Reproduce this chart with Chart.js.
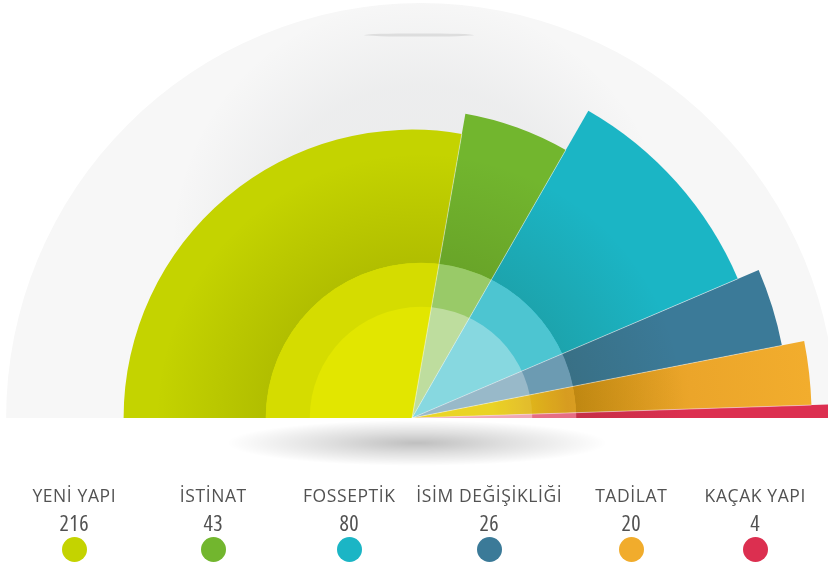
<!DOCTYPE html>
<html lang="tr">
<head>
<meta charset="utf-8">
<title>Başvuru Dağılımı</title>
<script src="https://cdn.jsdelivr.net/npm/chart.js@4.4.1/dist/chart.umd.min.js"></script>
<style>
  html, body { margin: 0; padding: 0; background: #fff; }
  body { position: relative; width: 828px; height: 571px; overflow: hidden; font-family: "Open Sans", Roboto, sans-serif; }
  #fan { position: absolute; left: 0; top: 0; }
  .key { position: absolute; top: 0; width: 180px; text-align: center; color: #525252; }
  .key .name { position: absolute; left: 0; right: 0; top: 486.5px; font-size: 17.5px; line-height: 17.5px; letter-spacing: 0.6px; text-indent: 0.6px; white-space: nowrap; }
  .key .count { position: absolute; left: 0; right: 0; top: 510.5px; font-size: 22px; line-height: 22px; font-stretch: 87.5%; letter-spacing: 0.5px; text-indent: 0.5px; }
  .key .dot { position: absolute; left: 77.5px; top: 537px; width: 25px; height: 25px; border-radius: 50%; }
</style>
</head>
<body>
<canvas id="fan" width="828" height="836"></canvas>
<div id="keys"></div>
<script>
var labels = ['YENİ YAPI', 'İSTİNAT', 'FOSSEPTİK', 'İSİM DEĞİŞİKLİĞİ', 'TADİLAT', 'KAÇAK YAPI'];
var counts = [216, 43, 80, 26, 20, 4];

// radial length of each slice, 100 = edge of the grey backdrop
var reach = [70, 75, 86, 91.5, 97, 102];
var colors = ['#c4d300', '#72b62e', '#1bb5c5', '#3b7a98', '#f1ac2c', '#dc2f50'];

// the two light rings laid over the middle of the fan
var ringReach = [37.7, 27];
var outerRing = ['#d5dc00', 'rgba(255,255,255,0.28)', 'rgba(255,255,255,0.22)', 'rgba(255,255,255,0.25)', 'rgba(255,240,160,0.1)', 'rgba(255,255,255,0.3)'];
var innerRing = ['#e2e600', 'rgba(255,255,255,0.36)', 'rgba(255,255,255,0.33)', 'rgba(255,255,255,0.3)', 'rgba(255,250,190,0.12)', 'rgba(255,255,255,0.4)'];

// legend column centres
var keyX = [74, 213, 349, 489, 631, 755];

var total = counts.reduce(function (a, b) { return a + b; }, 0);
var sweep = counts.map(function (v) { return v / total * 180; });

var ringShift = 9;      // rings and backdrop sit a little right of the fan tip
var backdropReach = 100.7;

function tadilatFill(c) {
    var r = c.chart.scales.r;
    if (!r || !c.chart.chartArea) return colors[4];
    var g = c.chart.ctx.createRadialGradient(r.xCenter, r.yCenter, 0, r.xCenter, r.yCenter, r.getDistanceFromCenterForValue(reach[4]));
    g.addColorStop(0, '#e6cf00');
    g.addColorStop(0.2, '#e6cc00');
    g.addColorStop(0.3, '#dcae0c');
    g.addColorStop(0.39, '#d39412');
    g.addColorStop(0.7, '#eba52a');
    g.addColorStop(1, '#f2ad2d');
    return g;
}

var fanDecor = {
    id: 'fanDecor',
    beforeDatasetsDraw: function (chart) {
        var ctx = chart.ctx, r = chart.scales.r;
        var cx = r.xCenter + ringShift, cy = r.yCenter;
        var R = r.getDistanceFromCenterForValue(backdropReach);

        ctx.save();
        // grey backdrop half disc
        ctx.beginPath();
        ctx.arc(cx, cy, R, Math.PI, 2 * Math.PI);
        ctx.closePath();
        ctx.fillStyle = '#f7f7f7';
        ctx.fill();
        ctx.clip();
        var haze = ctx.createRadialGradient(cx, cy - 170, 0, cx, cy - 170, 250);
        haze.addColorStop(0, 'rgba(60,70,80,0.07)');
        haze.addColorStop(0.65, 'rgba(60,70,80,0.055)');
        haze.addColorStop(1, 'rgba(60,70,80,0)');
        ctx.fillStyle = haze;
        ctx.fillRect(cx - R, cy - R, 2 * R, R);
        // thin sliver near the top
        ctx.beginPath();
        ctx.ellipse(cx - 2, cy - 383, 55, 1.6, 0, 0, 2 * Math.PI);
        ctx.fillStyle = 'rgba(0,0,0,0.09)';
        ctx.fill();
        ctx.restore();

        // soft floor shadow under the base line
        ctx.save();
        ctx.translate(r.xCenter + 5, cy + 25);
        ctx.scale(1, 0.12);
        var sh = ctx.createRadialGradient(0, 0, 0, 0, 0, 190);
        sh.addColorStop(0, 'rgba(0,0,0,0.25)');
        sh.addColorStop(0.45, 'rgba(0,0,0,0.13)');
        sh.addColorStop(1, 'rgba(0,0,0,0)');
        ctx.fillStyle = sh;
        ctx.fillRect(-200, -200, 400, 400);
        ctx.restore();
    },
    afterDatasetsDraw: function (chart) {
        var ctx = chart.ctx, r = chart.scales.r;
        var arcs = chart.getDatasetMeta(0).data;
        var cx = r.xCenter + ringShift, cy = r.yCenter;

        function slicePath(a) {
            ctx.moveTo(a.x, a.y);
            ctx.arc(a.x, a.y, a.outerRadius, a.startAngle, a.endAngle);
            ctx.closePath();
        }

        // shade cast by the rings onto the slices
        var r1 = r.getDistanceFromCenterForValue(ringReach[0]);
        ctx.save();
        ctx.beginPath();
        arcs.forEach(slicePath);
        ctx.clip();
        var shade = ctx.createRadialGradient(cx, cy, 0, cx, cy, 265);
        var edge = r1 / 265;
        shade.addColorStop(0, 'rgba(40,40,0,0)');
        shade.addColorStop(edge - 0.001, 'rgba(40,40,0,0)');
        shade.addColorStop(edge, 'rgba(40,40,0,0.12)');
        shade.addColorStop(1, 'rgba(40,40,0,0)');
        ctx.fillStyle = shade;
        ctx.fillRect(cx - 300, cy - 300, 600, 300);
        ctx.restore();

        [outerRing, innerRing].forEach(function (fills, k) {
            var rad = r.getDistanceFromCenterForValue(ringReach[k]);
            arcs.forEach(function (a, i) {
                ctx.save();
                ctx.beginPath();
                slicePath(a);
                ctx.clip();
                ctx.beginPath();
                ctx.arc(cx, cy, rad, Math.PI, 2 * Math.PI);
                ctx.closePath();
                ctx.fillStyle = fills[i];
                ctx.fill();
                ctx.restore();
            });
        });

        // thin light seams between slices
        ctx.save();
        ctx.strokeStyle = 'rgba(255,255,255,0.55)';
        ctx.lineWidth = 0.8;
        arcs.forEach(function (a, i) {
            if (i === 0) return;
            ctx.beginPath();
            ctx.moveTo(a.x, a.y);
            var len = Math.min(a.outerRadius, arcs[i - 1].outerRadius);
            ctx.lineTo(a.x + Math.cos(a.startAngle) * len, a.y + Math.sin(a.startAngle) * len);
            ctx.stroke();
        });
        ctx.restore();
    }
};

new Chart(document.getElementById('fan'), {
    type: 'polarArea',
    data: {
        labels: labels,
        datasets: [{
            data: reach,
            angle: sweep,
            backgroundColor: function (c) {
                return c.dataIndex === 4 ? tadilatFill(c) : colors[c.dataIndex];
            },
            borderWidth: 0,
            clip: false
        }]
    },
    options: {
        responsive: false,
        animation: false,
        events: [],
        layout: { padding: { right: 4 } },
        scales: {
            r: { display: false, min: 0, max: 100, startAngle: -90 }
        },
        plugins: {
            legend: { display: false },
            tooltip: { enabled: false }
        }
    },
    plugins: [fanDecor]
});

// legend under the fan
var keys = document.getElementById('keys');
labels.forEach(function (name, i) {
    var el = document.createElement('div');
    el.className = 'key';
    el.style.left = (keyX[i] - 90) + 'px';
    el.innerHTML = '<div class="name">' + name + '</div>' +
        '<div class="count">' + counts[i] + '</div>' +
        '<div class="dot" style="background:' + colors[i] + '"></div>';
    keys.appendChild(el);
});
</script>
</body>
</html>
